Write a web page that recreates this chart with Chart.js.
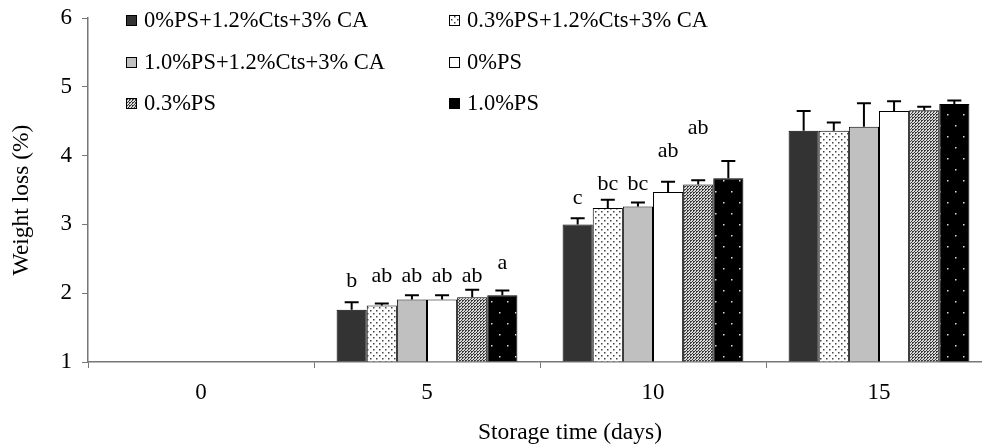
<!DOCTYPE html>
<html>
<head>
<meta charset="utf-8">
<script src="https://cdn.jsdelivr.net/npm/chart.js@4/dist/chart.umd.min.js"></script>
<style>
html,body{margin:0;padding:0;background:#fff;overflow:hidden;width:982px;height:447px;}
#wrap{width:982px;height:447px;overflow:hidden;position:relative;}
canvas{display:block;}
</style>
</head>
<body>
<div id="wrap"><canvas id="c" width="1000" height="447"></canvas></div>
<script>
// ---- data ----
const categories = ['0', '5', '10', '15'];
const seriesNames = ['0%PS+1.2%Cts+3% CA', '0.3%PS+1.2%Cts+3% CA', '1.0%PS+1.2%Cts+3% CA', '0%PS', '0.3%PS', '1.0%PS'];
const s1 = [null, 1.76, 3.00, 4.36];
const s2 = [null, 1.82, 3.24, 4.36];
const s3 = [null, 1.91, 3.26, 4.42];
const s4 = [null, 1.91, 3.47, 4.65];
const s5 = [null, 1.94, 3.58, 4.66];
const s6 = [null, 1.97, 3.67, 4.75];
const err1 = [null, 0.11, 0.09, 0.29];
const err2 = [null, 0.03, 0.12, 0.12];
const err3 = [null, 0.06, 0.06, 0.34];
const err4 = [null, 0.06, 0.15, 0.14];
const err5 = [null, 0.11, 0.06, 0.05];
const err6 = [null, 0.07, 0.25, 0.05];
const letters1 = ['', 'b', 'c', ''];
const letters2 = ['', 'ab', 'bc', ''];
const letters3 = ['', 'ab', 'bc', ''];
const letters4 = ['', 'ab', 'ab', ''];
const letters5 = ['', 'ab', 'ab', ''];
const letters6 = ['', 'a', '', ''];
// level (in % weight loss units) at which each letter is written
const letterLevel1 = [null, 2.17, 3.38, null];
const letterLevel2 = [null, 2.24, 3.59, null];
const letterLevel3 = [null, 2.24, 3.59, null];
const letterLevel4 = [null, 2.24, 4.06, null];
const letterLevel5 = [null, 2.24, 4.40, null];
const letterLevel6 = [null, 2.43, null, null];
const yTicks = [1, 2, 3, 4, 5, 6];

const values = [s1, s2, s3, s4, s5, s6];
const errors = [err1, err2, err3, err4, err5, err6];
const letters = [letters1, letters2, letters3, letters4, letters5, letters6];
const letterLevels = [letterLevel1, letterLevel2, letterLevel3, letterLevel4, letterLevel5, letterLevel6];

const FONT = '"Liberation Serif", "Times New Roman", serif';
const FS = 22;

// ---- patterns ----
function makePattern(w, h, draw) {
  const c = document.createElement('canvas');
  c.width = w; c.height = h;
  const x = c.getContext('2d');
  draw(x);
  return document.getElementById('c').getContext('2d').createPattern(c, 'repeat');
}
const pDark = '#333333';
const pDots = makePattern(6, 6, x => {
  x.fillStyle = '#fff'; x.fillRect(0, 0, 6, 6);
  x.fillStyle = '#444';
  x.fillRect(1, 1, 1.5, 1.5);
  x.fillRect(4, 4, 1.5, 1.5);
});
const pLight = '#c0c0c0';
const pWhite = '#ffffff';
const pCheck = makePattern(3, 3, x => {
  x.fillStyle = '#d8d8d8'; x.fillRect(0, 0, 3, 3);
  x.fillStyle = '#3a3a3a'; x.fillRect(0, 0, 2, 1); x.fillRect(0, 1, 1, 1); x.fillRect(2, 2, 1, 1);
});
const pBlackDots = makePattern(16, 22, x => {
  x.fillStyle = '#000'; x.fillRect(0, 0, 16, 22);
  x.fillStyle = '#ddd';
  x.fillRect(3, 4, 1.5, 1.5);
  x.fillRect(11, 15, 1.5, 1.5);
});
const fills = [pDark, pDots, pLight, pWhite, pCheck, pBlackDots];

const datasets = values.map((v, i) => ({
  label: seriesNames[i],
  data: v,
  base: 1,
  backgroundColor: fills[i],
  borderColor: '#000',
  borderWidth: 1,
  borderSkipped: 'start',
  categoryPercentage: 0.8,
  barPercentage: 1.0
}));

// ---- plugin: error bars, letters, legend, titles ----
const extras = {
  id: 'extras',
  afterDatasetsDraw(chart) {
    const ctx = chart.ctx;
    const y = chart.scales.y;
    ctx.save();
    chart.data.datasets.forEach((ds, i) => {
      const meta = chart.getDatasetMeta(i);
      meta.data.forEach((bar, j) => {
        const v = values[i][j];
        if (v == null) return;
        const e = errors[i][j];
        const yTop = y.getPixelForValue(v);
        const yErr = y.getPixelForValue(v + e);
        ctx.strokeStyle = '#000';
        ctx.lineWidth = 2;
        ctx.beginPath();
        ctx.moveTo(bar.x, yTop);
        ctx.lineTo(bar.x, yErr);
        ctx.moveTo(bar.x - 7, yErr);
        ctx.lineTo(bar.x + 7, yErr);
        ctx.stroke();
        const t = letters[i][j];
        if (t) {
          ctx.fillStyle = '#000';
          ctx.font = FS + 'px ' + FONT;
          ctx.textAlign = 'center';
          ctx.textBaseline = 'middle';
          ctx.fillText(t, bar.x, y.getPixelForValue(letterLevels[i][j]));
        }
      });
    });
    ctx.restore();
  },
  afterDraw(chart) {
    const ctx = chart.ctx;
    ctx.save();
    ctx.fillStyle = '#000';
    ctx.font = '22.5px ' + FONT;
    ctx.textBaseline = 'middle';
    // legend: 2 columns x 3 rows
    const colBox = [126, 449];
    const rowY = [20, 62, 103];
    seriesNames.forEach((name, i) => {
      const col = i % 2, row = Math.floor(i / 2);
      const bx = colBox[col], by = rowY[row];
      ctx.fillStyle = fills[i];
      ctx.fillRect(bx, by - 5, 10, 10);
      ctx.strokeStyle = '#000';
      ctx.lineWidth = 1;
      ctx.strokeRect(bx + 0.5, by - 4.5, 10, 10);
      ctx.fillStyle = '#000';
      ctx.textAlign = 'left';
      ctx.fillText(name, bx + 18, by + 1);
    });
    // axis titles
    ctx.font = '23.5px ' + FONT;
    ctx.textAlign = 'center';
    ctx.fillText('Storage time (days)', 570, 433);
    ctx.translate(22, 200);
    ctx.rotate(-Math.PI / 2);
    ctx.fillText('Weight loss (%)', 0, 0);
    ctx.restore();
  }
};

new Chart(document.getElementById('c'), {
  type: 'bar',
  data: { labels: categories, datasets },
  options: {
    responsive: false,
    animation: false,
    layout: { padding: { top: 18, right: 8, left: 0, bottom: 0 } },
    plugins: { legend: { display: false }, tooltip: { enabled: false } },
    scales: {
      x: {
        offset: true,
        grid: { offset: true, drawOnChartArea: false, color: '#777', tickLength: 6, lineWidth: 1 },
        border: { color: '#777', width: 1.5 },
        ticks: { color: '#000', font: { family: FONT, size: 23 }, padding: 11 },
        afterFit(s) { s.height = 85; s.paddingLeft = 0; s.paddingRight = 0; }
      },
      y: {
        min: 1, max: 6,
        afterBuildTicks(s) { s.ticks = yTicks.map(v => ({ value: v })); },
        grid: { drawOnChartArea: false, color: '#777', tickLength: 6 },
        border: { color: '#777', width: 1.5 },
        ticks: { color: '#000', font: { family: FONT, size: 23 }, padding: 10 },
        afterFit(s) { s.width = 88; s.paddingTop = 0; s.paddingBottom = 0; }
      }
    }
  },
  plugins: [extras]
});
</script>
</body>
</html>
